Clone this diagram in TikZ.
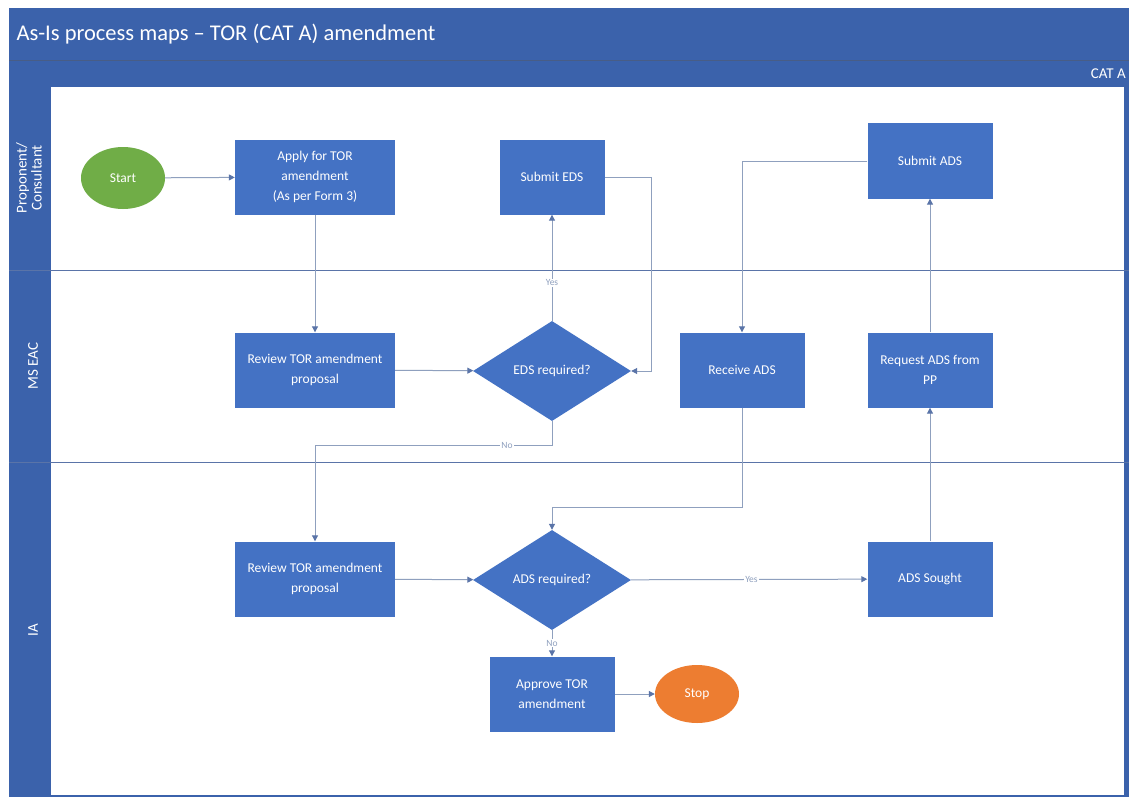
\documentclass[tikz,border=0pt]{standalone}
\usepackage{fontspec}
\setmainfont{Carlito}
\usetikzlibrary{shapes.geometric,arrows.meta}
\definecolor{hdr}{HTML}{3B62AB}
\definecolor{boxblue}{HTML}{4472C4}
\definecolor{startgreen}{HTML}{70AD47}
\definecolor{stoporange}{HTML}{ED7D31}
\definecolor{flow}{HTML}{8FA0BE}
\definecolor{lanesep}{HTML}{5A74A8}
\begin{document}
\begin{tikzpicture}[x=1pt,y=-1pt,
  boxtext/.style={font=\fontsize{13.5}{20}\selectfont},
  stepbox/.style={draw=none,fill=boxblue,text=white,minimum width=#1,minimum height=75pt,
    align=center,boxtext,inner sep=2pt},
  stepbox/.default=125pt,
  decision/.style={diamond,fill=boxblue,text=white,minimum width=158pt,minimum height=100pt,
    aspect=1.58,inner sep=0pt,boxtext},
  terminal/.style={ellipse,text=white,minimum width=84pt,minimum height=62pt,inner sep=0pt,boxtext},
  flowline/.style={draw=flow,line width=1pt,-{Triangle[length=6pt,width=6pt,fill=lanesep,color=lanesep]}},
  answer/.style={fill=white,text=flow,inner sep=1pt,font=\fontsize{9.5}{10}\selectfont},
  lanelabel/.style={rotate=90,text=white,align=center,font=\fontsize{15}{15}\selectfont}]
\useasboundingbox (0,0) rectangle (1129,797);
\clip (0,0) rectangle (1129,797);
\fill[white] (0,0) rectangle (1129,797);

% header band and swimlane frame
\fill[hdr] (9,8) rectangle (1129,797);
\draw[lanesep!80!black,line width=0.8pt] (9,60) -- (1129,60);
\fill[white] (51,87) rectangle (1124,795);
\node[anchor=west,text=white,font=\fontsize{22.5}{24}\selectfont] (title) at (13,34) {As-Is process maps -- TOR (CAT A) amendment};
\node[anchor=east,text=white,font=\fontsize{15}{16}\selectfont,inner sep=1pt] (cat) at (1127,74) {CAT A};

% lane separators
\draw[lanesep,line width=1pt] (9,270) -- (1129,270);
\draw[lanesep,line width=1pt] (9,462) -- (1129,462);
\node[lanelabel] (lane1) at (29,178) {Proponent/\\Consultant};
\node[lanelabel] (lane2) at (33,366) {MS EAC};
\node[lanelabel] (lane3) at (33,630) {IA};

% process steps
\node[terminal,fill=startgreen] (start) at (123,178) {Start};
\node[stepbox=160pt] (apply) at (315,177) {Apply for TOR\\amendment\\(As per Form 3)};
\node[stepbox=105pt] (submiteds) at (552,177) {Submit EDS};
\node[stepbox] (submitads) at (930,161) {Submit ADS};
\node[stepbox=160pt] (review1) at (315,370) {Review TOR amendment\\proposal};
\node[decision] (edsq) at (552,371) {EDS required?};
\node[stepbox] (receiveads) at (742,370) {Receive ADS};
\node[stepbox] (requestads) at (930,370) {Request ADS from\\PP};
\node[stepbox=160pt] (review2) at (315,579) {Review TOR amendment\\proposal};
\node[decision] (adsq) at (552,580) {ADS required?};
\node[stepbox] (adssought) at (930,579) {ADS Sought};
\node[stepbox] (approve) at (552,694) {Approve TOR\\amendment};
\node[terminal,fill=stoporange,minimum height=58pt] (stop) at (697,694) {Stop};

% connectors
\draw[flowline] (start) -- (apply);
\draw[flowline] (apply) -- (review1);
\draw[flowline] (review1) -- (edsq);
\draw[flowline] (edsq) -- node[answer,pos=0.36]{Yes} (submiteds);
\draw[flowline] (submiteds.east) -- ++(47,0) |- (edsq.east);
\draw[flowline] (edsq.south) |- ++(-90,24) node[answer,pos=0.75]{No} -| (review2.north);
\draw[flowline] (review2) -- (adsq);
\draw[flowline] (adsq) -- node[answer,pos=0.51]{Yes} (adssought);
\draw[flowline] (adssought) -- (requestads);
\draw[flowline] (requestads) -- (submitads);
\draw[flowline] (submitads.west) -| (receiveads.north);
\draw[flowline] (receiveads.south) |- ++(-95,100) -| (adsq.north);
\draw[flowline] (adsq) -- node[answer,pos=0.5]{No} (approve);
\draw[flowline] (approve) -- (stop);
\end{tikzpicture}
\end{document}
